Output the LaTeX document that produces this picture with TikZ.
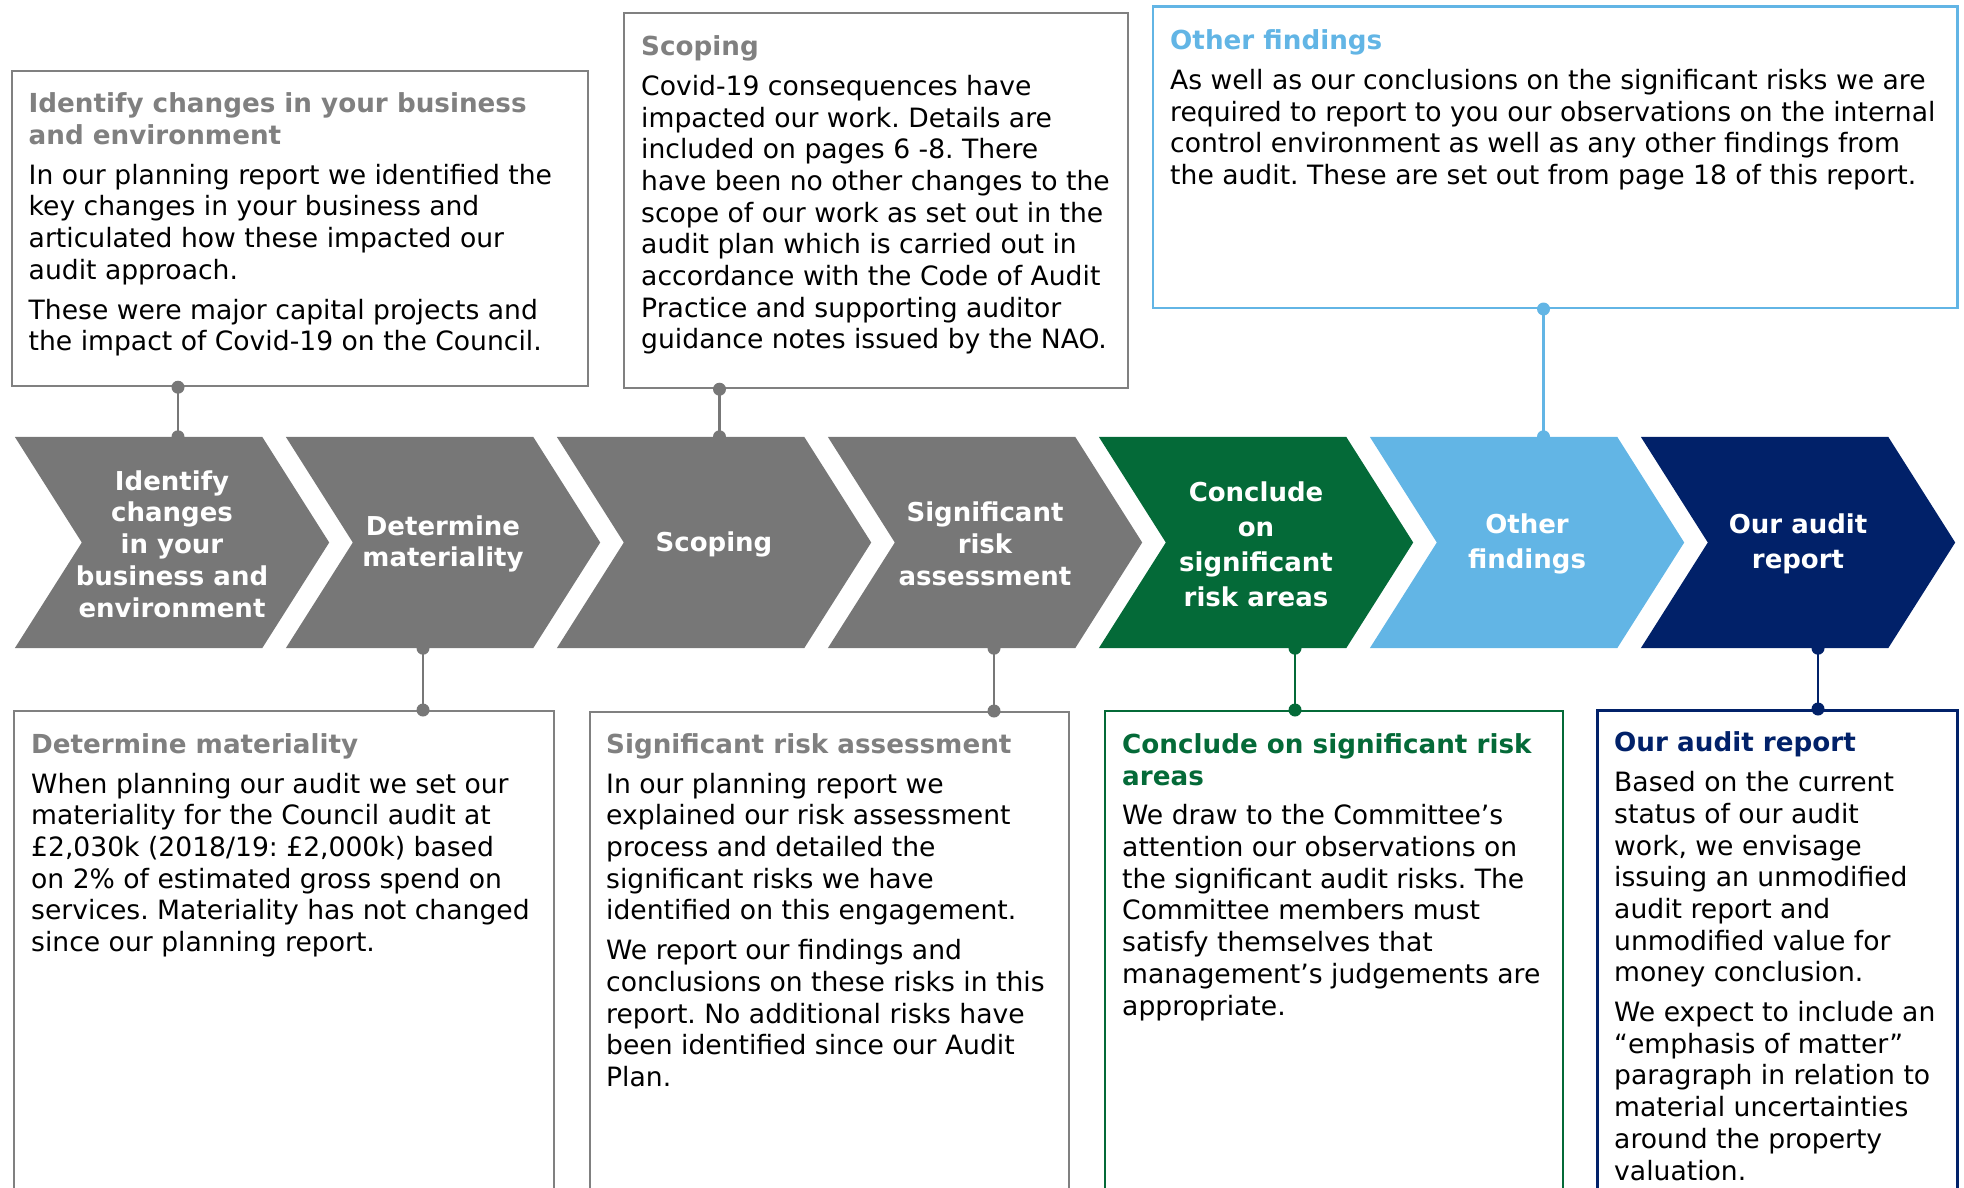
\documentclass[tikz,border=0pt]{standalone}
\usepackage{fontspec}
\setmainfont{DejaVu Sans}
\usetikzlibrary{backgrounds}

\definecolor{stepgray}{HTML}{777777}
\definecolor{panelgray}{HTML}{808080}
\definecolor{stepgreen}{HTML}{046A38}
\definecolor{stepblue}{HTML}{62B5E5}
\definecolor{stepnavy}{HTML}{012169}

\newcommand\bodyfont{\fontsize{26.6}{31.7}\selectfont\frenchspacing}
\newcommand\headfont{\fontsize{26.2}{31.7}\selectfont\bfseries}
\newcommand\chevfont{\fontsize{26}{31.7}\selectfont\bfseries}

% one chevron of the process row: name, centre x, colour, label
\newcommand\chevronstep[4]{%
  \node[chev] (#1) at (#2,542.5) {};
  \node[chevtext] (#1t) at (#2,544) {#4};
  \begin{scope}[on background layer]
    \fill[#3] (#1.north west) -- ([xshift=-67pt]#1.north east) -- (#1.east)
      -- ([xshift=-67pt]#1.south east) -- (#1.south west)
      -- ([xshift=67pt]#1.west) -- cycle;
  \end{scope}}

\begin{document}
\begin{tikzpicture}[x=1pt,y=-1pt,
  panel/.style={draw=#1, line width=2.2pt, anchor=north west, inner sep=0pt},
  copy/.style={anchor=north west, inner sep=0pt, align=left, font=\bodyfont, text=black},
  chev/.style={minimum width=314pt, minimum height=211pt, inner sep=0pt},
  chevtext/.style={inner sep=0pt, align=center, text=white, font=\chevfont},
  link/.style={line width=2.5pt, draw=#1},
]
\useasboundingbox (0,0) rectangle (1964,1188);
\clip (0,0) rectangle (1964,1188);

% process row
\chevronstep{c1}{172}{stepgray}{Identify\\changes\\in your\\business and\\environment}
\chevronstep{c2}{443}{stepgray}{Determine\\materiality}
\chevronstep{c3}{714}{stepgray}{Scoping}
\chevronstep{c4}{985}{stepgray}{Significant\\risk\\assessment}
\chevronstep{c5}{1256}{stepgreen}{Conclude\\[3.3pt]on\\[3.3pt]significant\\[3.3pt]risk areas}
\chevronstep{c6}{1527}{stepblue}{Other\\[3.3pt]findings}
\chevronstep{c7}{1798}{stepnavy}{Our audit\\[3.3pt]report}

% panels above the row
\node[panel=panelgray, minimum width=576pt, minimum height=315pt] (b1) at (11,70) {};
\node[panel=panelgray, minimum width=504pt, minimum height=375pt] (b2) at (623,12) {};
\node[panel=stepblue, line width=2.5pt, minimum width=804.5pt, minimum height=301pt] (b3) at (1151.5,5.5) {};

% panels below the row (they run on past the lower edge)
\node[panel=panelgray, minimum width=540pt, minimum height=600pt] (b4) at (13,710) {};
\node[panel=panelgray, minimum width=479pt, minimum height=600pt] (b5) at (589,711) {};
\node[panel=stepgreen, minimum width=458pt, minimum height=600pt] (b6) at (1104,710) {};
\node[panel=stepnavy, line width=2.5pt, minimum width=360pt, minimum height=600pt] (b7) at (1596,709) {};

% panel texts
\node[copy] (t1) at (28.5,90.5) {%
  \strut{\headfont\color{panelgray}Identify changes in your business}\\
  {\headfont\color{panelgray}and environment}\\[8pt]
  In our planning report we identified the\\
  key changes in your business and\\
  articulated how these impacted our\\
  audit approach.\\[8pt]
  These were major capital projects and\\
  the impact of Covid-19 on the Council.};

\node[copy] (t2) at (641,33.3) {%
  \strut{\headfont\color{panelgray}Scoping}\\[8pt]
  Covid-19 consequences have\\
  impacted our work. Details are\\
  included on pages 6 -8. There\\
  have been no other changes to the\\
  scope of our work as set out in the\\
  audit plan which is carried out in\\
  accordance with the Code of Audit\\
  Practice and supporting auditor\\
  guidance notes issued by the NAO.};

\node[copy] (t3) at (1170,27.3) {%
  \strut{\headfont\color{stepblue}Other findings}\\[8pt]
  As well as our conclusions on the significant risks we are\\
  required to report to you our observations on the internal\\
  control environment as well as any other findings from\\
  the audit. These are set out from page 18 of this report.};

\node[copy] (t4) at (31,731) {%
  \strut{\headfont\color{panelgray}Determine materiality}\\[8pt]
  When planning our audit we set our\\
  materiality for the Council audit at\\
  £2,030k (2018/19: £2,000k) based\\
  on 2\% of estimated gross spend on\\
  services. Materiality has not changed\\
  since our planning report.};

\node[copy] (t5) at (606,731) {%
  \strut{\headfont\color{panelgray}Significant risk assessment}\\[8pt]
  In our planning report we\\
  explained our risk assessment\\
  process and detailed the\\
  significant risks we have\\
  identified on this engagement.\\[8pt]
  We report our findings and\\
  conclusions on these risks in this\\
  report. No additional risks have\\
  been identified since our Audit\\
  Plan.};

\node[copy] (t6) at (1122,731) {%
  \strut{\headfont\color{stepgreen}Conclude on significant risk}\\
  {\headfont\color{stepgreen}areas}\\[8pt]
  We draw to the Committee’s\\
  attention our observations on\\
  the significant audit risks. The\\
  Committee members must\\
  satisfy themselves that\\
  management’s judgements are\\
  appropriate.};

\node[copy] (t7) at (1614,729.5) {%
  \strut{\headfont\color{stepnavy}Our audit report}\\[8pt]
  Based on the current\\
  status of our audit\\
  work, we envisage\\
  issuing an unmodified\\
  audit report and\\
  unmodified value for\\
  money conclusion.\\[8pt]
  We expect to include an\\
  “emphasis of matter”\\
  paragraph in relation to\\
  material uncertainties\\
  around the property\\
  valuation.};

% connectors between panels and chevrons
\coordinate (x1) at (178,0);
\coordinate (x2) at (719.5,0);
\coordinate (x3) at (1543.5,0);
\coordinate (x4) at (423,0);
\coordinate (x5) at (994,0);
\coordinate (x6) at (1295,0);
\coordinate (x7) at (1818,0);

\draw[link=stepgray] (b1.south -| x1) -- (c1.north -| x1);
\fill[stepgray] (b1.south -| x1) circle[radius=6.5] (c1.north -| x1) circle[radius=6.5];
\draw[link=stepgray] (b2.south -| x2) -- (c3.north -| x2);
\fill[stepgray] (b2.south -| x2) circle[radius=6.5] (c3.north -| x2) circle[radius=6.5];
\draw[link=stepblue] (b3.south -| x3) -- (c6.north -| x3);
\fill[stepblue] (b3.south -| x3) circle[radius=6.5] (c6.north -| x3) circle[radius=6.5];

\draw[link=stepgray] (c2.south -| x4) -- (b4.north -| x4);
\fill[stepgray] (c2.south -| x4) circle[radius=6.5] (b4.north -| x4) circle[radius=6.5];
\draw[link=stepgray] (c4.south -| x5) -- (b5.north -| x5);
\fill[stepgray] (c4.south -| x5) circle[radius=6.5] (b5.north -| x5) circle[radius=6.5];
\draw[link=stepgreen] (c5.south -| x6) -- (b6.north -| x6);
\fill[stepgreen] (c5.south -| x6) circle[radius=6.5] (b6.north -| x6) circle[radius=6.5];
\draw[link=stepnavy] (c7.south -| x7) -- (b7.north -| x7);
\fill[stepnavy] (c7.south -| x7) circle[radius=6.5] (b7.north -| x7) circle[radius=6.5];
\end{tikzpicture}
\end{document}
